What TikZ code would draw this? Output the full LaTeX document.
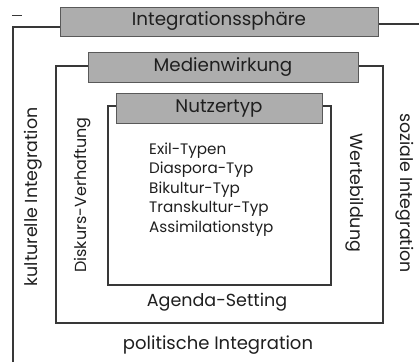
\documentclass[tikz,border=0pt]{standalone}
\usepackage{fontspec}
\setmainfont{Poppins}
\begin{document}
\begin{tikzpicture}[x=1pt,y=-1pt,
  frame/.style={draw=black!78,line width=2.2pt},
  titlebox/.style={draw=black!65,line width=0.9pt,fill=black!32,inner sep=0pt,anchor=center},
  lbl/.style={text=black!88,inner sep=0pt,font=\fontsize{17.4}{19}\selectfont},
  big/.style={lbl,font=\fontsize{18.3}{20}\selectfont},
  item/.style={lbl,anchor=base west,font=\fontsize{15.2}{17}\selectfont}]
\useasboundingbox (0,0) rectangle (419,362);
\fill[white] (0,0) rectangle (419,362);
% outer frame
\draw[frame] (13,362) -- (13,27) -- (60,27);
\draw[frame] (378,24) -- (419,24);
\draw[black!78,line width=1pt] (12,15) -- (22,15);
\node[titlebox,minimum width=318pt,minimum height=29pt] (ints) at (219,21.5) {};
\node[big] (intst) at (ints.center) {Integrationssphäre};
% middle frame
\draw[frame] (56,66) rectangle (383,323);
\node[titlebox,minimum width=270pt,minimum height=30pt] (med) at (223,67) {};
\node[big] (medt) at (med.center) {Medienwirkung};
% inner frame
\draw[frame] (108,106) rectangle (331,285);
\node[titlebox,minimum width=206pt,minimum height=30pt] (nut) at (219,108) {};
\node[big] (nutt) at (nut.center) {Nutzertyp};
% list
\node[item] (l1) at (149,154) {Exil-Typen};
\node[item] (l2) at (149,173.5) {Diaspora-Typ};
\node[item] (l3) at (149,193) {Bikultur-Typ};
\node[item] (l4) at (149,212.5) {Transkultur-Typ};
\node[item] (l5) at (149,232) {Assimilationstyp};
\node[lbl,font=\fontsize{17.5}{19}\selectfont] (agenda) at (217,302) {Agenda-Setting};
\node[lbl,font=\fontsize{18}{19}\selectfont] (polit) at (218,345) {politische Integration};
\node[lbl,rotate=90] (kult) at (33,197) {kulturelle Integration};
\node[lbl,rotate=90,font=\fontsize{16}{18}\selectfont] (disk) at (83,195) {Diskurs-Verhaftung};
\node[lbl,rotate=-90,font=\fontsize{17.5}{19}\selectfont] (wert) at (355,193) {Wertebildung};
\node[lbl,rotate=-90] (soz) at (405,193) {soziale Integration};
\end{tikzpicture}
\end{document}
